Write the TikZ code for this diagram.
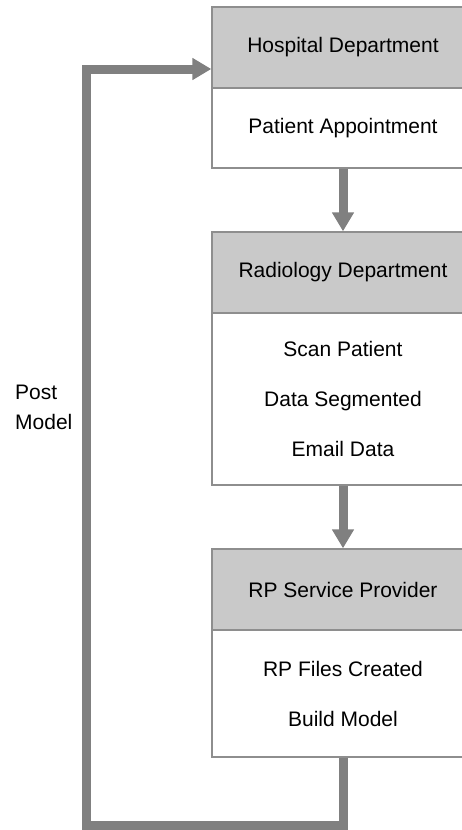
\documentclass[tikz,border=0pt]{standalone}
\usepackage{fontspec}
\setmainfont{Liberation Sans}
\usetikzlibrary{arrows.meta}
\definecolor{headgray}{HTML}{C9C9C9}
\definecolor{edgegray}{HTML}{8E8E8E}
\definecolor{flowgray}{HTML}{808080}
\tikzstyle{header} = [rectangle,fill=headgray,draw=edgegray,line width=1.4pt,
minimum width=262pt, minimum height=81pt, inner sep=0pt, font=\fontsize{21}{25}\selectfont]
\tikzstyle{stage} = [header,fill=white,align=center, font=\fontsize{21}{50}\selectfont]
\tikzstyle{caption} = [inner sep=0pt, align=left, font=\fontsize{21}{30}\selectfont]
\tikzstyle{flow} = [draw=flowgray,line width=9pt,
-{Triangle[width=21pt,length=19pt]}]

\begin{document}
\begin{tikzpicture}[x=1pt,y=-1pt]
  \useasboundingbox (0,0) rectangle (461,830);

  \node[header] (hosp) at (343,47.5) {Hospital Department};
  \node[stage, minimum height=80pt] (hospbody) at (343,128) {Patient Appointment};

  \node[header] (radio) at (343,272.5) {Radiology Department};
  \node[stage, minimum height=172pt] (radiobody) at (343,399)
    {Scan Patient\\Data Segmented\\Email Data};

  \node[header] (rp) at (343,589.5) {RP Service Provider};
  \node[stage, minimum height=127pt] (rpbody) at (343,693.5)
    {RP Files Created\\Build Model};

  \draw[flow] (hospbody) -- (radio);
  \draw[flow] (radiobody) -- (rp);

  % feedback loop back to the hospital
  \coordinate (loopbot) at (86,825);
  \coordinate (looptop) at (86,69);
  \draw[flow, line join=miter] (rpbody.south) |- (loopbot) -- (looptop)
    -- (hosp.west |- looptop);
  \node[caption, anchor=west] (post) at (15,407) {Post\\Model};
\end{tikzpicture}
\end{document}
